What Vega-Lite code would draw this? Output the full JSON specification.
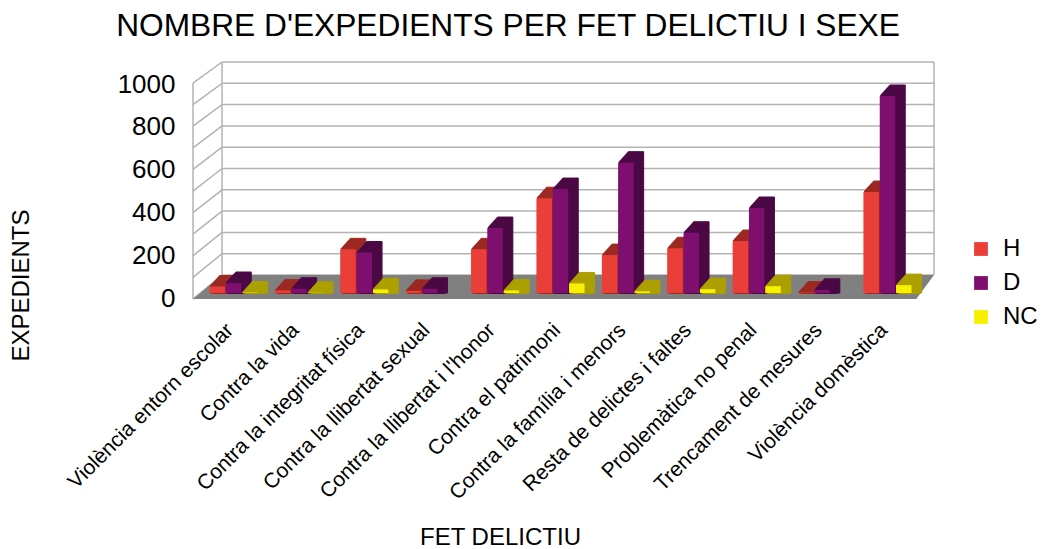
{"$schema":"https://vega.github.io/schema/vega-lite/v6.json","autosize":"none","width":712,"height":237,"padding":{"left":222,"top":62,"right":107,"bottom":250},"background":"white","config":{"font":"Liberation Sans","view":{"stroke":null}},
"title":{"text":"NOMBRE D'EXPEDIENTS PER FET DELICTIU I SEXE","fontSize":31.7,"fontWeight":"normal","color":"#000000","anchor":"middle","dx":-70,"offset":16},
"datasets":{
"H":[{"cat":"Violència entorn escolar","serie":"H","value":30},{"cat":"Contra la vida","serie":"H","value":12},{"cat":"Contra la integritat física","serie":"H","value":205},{"cat":"Contra la llibertat sexual","serie":"H","value":10},{"cat":"Contra la llibertat i l'honor","serie":"H","value":205},{"cat":"Contra el patrimoni","serie":"H","value":445},{"cat":"Contra la família i menors","serie":"H","value":178},{"cat":"Resta de delictes i faltes","serie":"H","value":210},{"cat":"Problemàtica no penal","serie":"H","value":244},{"cat":"Trencament de mesures","serie":"H","value":2},{"cat":"Violència domèstica","serie":"H","value":474}],
"D":[{"cat":"Violència entorn escolar","serie":"D","value":47},{"cat":"Contra la vida","serie":"D","value":20},{"cat":"Contra la integritat física","serie":"D","value":190},{"cat":"Contra la llibertat sexual","serie":"D","value":20},{"cat":"Contra la llibertat i l'honor","serie":"D","value":305},{"cat":"Contra el patrimoni","serie":"D","value":488},{"cat":"Contra la família i menors","serie":"D","value":612},{"cat":"Resta de delictes i faltes","serie":"D","value":283},{"cat":"Problemàtica no penal","serie":"D","value":399},{"cat":"Trencament de mesures","serie":"D","value":15},{"cat":"Violència domèstica","serie":"D","value":925}],
"NC":[{"cat":"Violència entorn escolar","serie":"NC","value":2},{"cat":"Contra la vida","serie":"NC","value":1},{"cat":"Contra la integritat física","serie":"NC","value":17},{"cat":"Contra la llibertat i l'honor","serie":"NC","value":12},{"cat":"Contra el patrimoni","serie":"NC","value":45},{"cat":"Contra la família i menors","serie":"NC","value":8},{"cat":"Resta de delictes i faltes","serie":"NC","value":18},{"cat":"Problemàtica no penal","serie":"NC","value":32},{"cat":"Violència domèstica","serie":"NC","value":37}],
"walls":[{"line":"b0","u":0.324,"h":0},{"line":"b0","u":11.21,"h":0},{"line":"b100","u":0.324,"h":100},{"line":"b100","u":11.21,"h":100},{"line":"b200","u":0.324,"h":200},{"line":"b200","u":11.21,"h":200},{"line":"b300","u":0.324,"h":300},{"line":"b300","u":11.21,"h":300},{"line":"b400","u":0.324,"h":400},{"line":"b400","u":11.21,"h":400},{"line":"b500","u":0.324,"h":500},{"line":"b500","u":11.21,"h":500},{"line":"b600","u":0.324,"h":600},{"line":"b600","u":11.21,"h":600},{"line":"b700","u":0.324,"h":700},{"line":"b700","u":11.21,"h":700},{"line":"b800","u":0.324,"h":800},{"line":"b800","u":11.21,"h":800},{"line":"b900","u":0.324,"h":900},{"line":"b900","u":11.21,"h":900},{"line":"b1000","u":0.324,"h":1000},{"line":"b1000","u":11.21,"h":1000},
{"line":"s0","u":-0.12,"h":-113},{"line":"s0","u":0.324,"h":0},{"line":"s100","u":-0.12,"h":-11},{"line":"s100","u":0.324,"h":100},{"line":"s200","u":-0.12,"h":90},{"line":"s200","u":0.324,"h":200},{"line":"s300","u":-0.12,"h":192},{"line":"s300","u":0.324,"h":300},{"line":"s400","u":-0.12,"h":293},{"line":"s400","u":0.324,"h":400},{"line":"s500","u":-0.12,"h":394},{"line":"s500","u":0.324,"h":500},{"line":"s600","u":-0.12,"h":496},{"line":"s600","u":0.324,"h":600},{"line":"s700","u":-0.12,"h":597},{"line":"s700","u":0.324,"h":700},{"line":"s800","u":-0.12,"h":699},{"line":"s800","u":0.324,"h":800},{"line":"s900","u":-0.12,"h":800},{"line":"s900","u":0.324,"h":900},{"line":"s1000","u":-0.12,"h":901},{"line":"s1000","u":0.324,"h":1000},
{"line":"vb","u":0.3241,"h":0},{"line":"vb","u":0.324,"h":1000},{"line":"vr","u":11.2101,"h":0},{"line":"vr","u":11.21,"h":1000},{"line":"vf","u":-0.1199,"h":-113},{"line":"vf","u":-0.12,"h":901}],
"floor":[{"u":-0.12,"h":-113,"h2":-113},{"u":0.324,"h":0,"h2":-113},{"u":10.94,"h":0,"h2":-113},{"u":11.21,"h":0,"h2":0}],
"levels":[{"level":0},{"level":200},{"level":400},{"level":600},{"level":800},{"level":1000}]
},
"layer":[
{"encoding":{"x":{"field":"u","type":"quantitative","axis":null,"scale":{"domain":[-0.12,11.21],"range":[-29,712],"zero":false,"nice":false}},"y":{"field":"h","type":"quantitative","axis":null,"scale":{"domain":[0,1000],"range":[213,0],"nice":false}}},
"layer":[
{"data":{"name":"walls"},"mark":{"type":"line","color":"#b3b3b3","strokeWidth":1.5,"clip":false},"encoding":{"detail":{"field":"line"},"order":{"field":"h","type":"quantitative"}}},
{"data":{"name":"floor"},"mark":{"type":"area","color":"#808080","opacity":1},"encoding":{"y2":{"field":"h2"}}}
]},
{"data":{"name":"levels"},"mark":{"type":"rule","opacity":0},"encoding":{"y":{"field":"level","type":"quantitative","scale":{"domain":[0,1000],"range":[236,22],"nice":false},"axis":{"values":[0,200,400,600,800,1000],"format":"d","grid":false,"domain":false,"ticks":false,"labelFontSize":26,"labelColor":"#000000","labelPadding":47,"labelOverlap":false,"title":"EXPEDIENTS","titleFontSize":24,"titleFontWeight":"normal","titleColor":"#000000","titleX":-201,"titleY":223,"titleAngle":270,"titleAlign":"center","titleBaseline":"middle"}}}},
{"encoding":{
"x":{"field":"cat","type":"nominal","sort":null,"scale":{"range":[-21.2,698.2],"paddingInner":0.25,"paddingOuter":0.125},"axis":{"domain":false,"ticks":false,"grid":false,"labelAngle":-45,"labelAlign":"right","labelBaseline":"top","labelFontSize":21,"labelColor":"#000000","labelLimit":400,"labelPadding":20,"labelOffset":-11,"labelOverlap":false,"labelBound":false,"title":"FET DELICTIU","titleFontSize":24,"titleFontWeight":"normal","titleColor":"#000000","titleX":278,"titleY":238,"titleAlign":"center","titleBaseline":"middle"}},
"y":{"field":"value","type":"quantitative","stack":null,"axis":null,"scale":{"domain":[0,1000],"range":[231,18],"nice":false}}},
"layer":[
{"data":{"name":"H"},"mark":{"type":"bar","width":15.5,"color":"#9c2a22","stroke":"#9c2a22","xOffset":-6.3,"yOffset":-11}},
{"data":{"name":"H"},"mark":{"type":"bar","width":15.5,"color":"#9c2a22","stroke":"#9c2a22","xOffset":-7.3,"yOffset":-9.9}},
{"data":{"name":"H"},"mark":{"type":"bar","width":15.5,"color":"#9c2a22","stroke":"#9c2a22","xOffset":-8.3,"yOffset":-8.8}},
{"data":{"name":"H"},"mark":{"type":"bar","width":15.5,"color":"#9c2a22","stroke":"#9c2a22","xOffset":-9.3,"yOffset":-7.7}},
{"data":{"name":"H"},"mark":{"type":"bar","width":15.5,"color":"#9c2a22","stroke":"#9c2a22","xOffset":-10.3,"yOffset":-6.6}},
{"data":{"name":"H"},"mark":{"type":"bar","width":15.5,"color":"#9c2a22","stroke":"#9c2a22","xOffset":-11.3,"yOffset":-5.5}},
{"data":{"name":"H"},"mark":{"type":"bar","width":15.5,"color":"#9c2a22","stroke":"#9c2a22","xOffset":-12.3,"yOffset":-4.4}},
{"data":{"name":"H"},"mark":{"type":"bar","width":15.5,"color":"#9c2a22","stroke":"#9c2a22","xOffset":-13.3,"yOffset":-3.3}},
{"data":{"name":"H"},"mark":{"type":"bar","width":15.5,"color":"#9c2a22","stroke":"#9c2a22","xOffset":-14.3,"yOffset":-2.2}},
{"data":{"name":"H"},"mark":{"type":"bar","width":15.5,"color":"#9c2a22","stroke":"#9c2a22","xOffset":-15.3,"yOffset":-1.1}},
{"data":{"name":"H"},"mark":{"type":"bar","width":15.5,"opacity":1,"xOffset":-16.3},"encoding":{"color":{"field":"serie","type":"nominal","scale":{"domain":["H","D","NC"],"range":["#ea3f38","#7e0f6f","#f7f000"]},"legend":{"orient":"none","legendX":747,"legendY":175,"title":null,"symbolType":"square","symbolSize":190,"labelFontSize":24,"labelColor":"#000000","labelOffset":10,"rowPadding":10,"symbolOpacity":1}}}},
{"data":{"name":"D"},"mark":{"type":"bar","width":15.5,"color":"#4b0a45","stroke":"#4b0a45","xOffset":10,"yOffset":-11}},
{"data":{"name":"D"},"mark":{"type":"bar","width":15.5,"color":"#4b0a45","stroke":"#4b0a45","xOffset":9,"yOffset":-9.9}},
{"data":{"name":"D"},"mark":{"type":"bar","width":15.5,"color":"#4b0a45","stroke":"#4b0a45","xOffset":8,"yOffset":-8.8}},
{"data":{"name":"D"},"mark":{"type":"bar","width":15.5,"color":"#4b0a45","stroke":"#4b0a45","xOffset":7,"yOffset":-7.7}},
{"data":{"name":"D"},"mark":{"type":"bar","width":15.5,"color":"#4b0a45","stroke":"#4b0a45","xOffset":6,"yOffset":-6.6}},
{"data":{"name":"D"},"mark":{"type":"bar","width":15.5,"color":"#4b0a45","stroke":"#4b0a45","xOffset":5,"yOffset":-5.5}},
{"data":{"name":"D"},"mark":{"type":"bar","width":15.5,"color":"#4b0a45","stroke":"#4b0a45","xOffset":4,"yOffset":-4.4}},
{"data":{"name":"D"},"mark":{"type":"bar","width":15.5,"color":"#4b0a45","stroke":"#4b0a45","xOffset":3,"yOffset":-3.3}},
{"data":{"name":"D"},"mark":{"type":"bar","width":15.5,"color":"#4b0a45","stroke":"#4b0a45","xOffset":2,"yOffset":-2.2}},
{"data":{"name":"D"},"mark":{"type":"bar","width":15.5,"color":"#4b0a45","stroke":"#4b0a45","xOffset":1,"yOffset":-1.1}},
{"data":{"name":"D"},"mark":{"type":"bar","width":15.5,"opacity":1},"encoding":{"color":{"field":"serie","type":"nominal"}}},
{"data":{"name":"NC"},"mark":{"type":"bar","width":15.5,"color":"#aca000","stroke":"#aca000","xOffset":26.3,"yOffset":-11}},
{"data":{"name":"NC"},"mark":{"type":"bar","width":15.5,"color":"#aca000","stroke":"#aca000","xOffset":25.3,"yOffset":-9.9}},
{"data":{"name":"NC"},"mark":{"type":"bar","width":15.5,"color":"#aca000","stroke":"#aca000","xOffset":24.3,"yOffset":-8.8}},
{"data":{"name":"NC"},"mark":{"type":"bar","width":15.5,"color":"#aca000","stroke":"#aca000","xOffset":23.3,"yOffset":-7.7}},
{"data":{"name":"NC"},"mark":{"type":"bar","width":15.5,"color":"#aca000","stroke":"#aca000","xOffset":22.3,"yOffset":-6.6}},
{"data":{"name":"NC"},"mark":{"type":"bar","width":15.5,"color":"#aca000","stroke":"#aca000","xOffset":21.3,"yOffset":-5.5}},
{"data":{"name":"NC"},"mark":{"type":"bar","width":15.5,"color":"#aca000","stroke":"#aca000","xOffset":20.3,"yOffset":-4.4}},
{"data":{"name":"NC"},"mark":{"type":"bar","width":15.5,"color":"#aca000","stroke":"#aca000","xOffset":19.3,"yOffset":-3.3}},
{"data":{"name":"NC"},"mark":{"type":"bar","width":15.5,"color":"#aca000","stroke":"#aca000","xOffset":18.3,"yOffset":-2.2}},
{"data":{"name":"NC"},"mark":{"type":"bar","width":15.5,"color":"#aca000","stroke":"#aca000","xOffset":17.3,"yOffset":-1.1}},
{"data":{"name":"NC"},"mark":{"type":"bar","width":15.5,"opacity":1,"xOffset":16.3},"encoding":{"color":{"field":"serie","type":"nominal"}}}
]}
],
"resolve":{"scale":{"x":"independent","y":"independent"},"axis":{"x":"independent","y":"independent"}}}
